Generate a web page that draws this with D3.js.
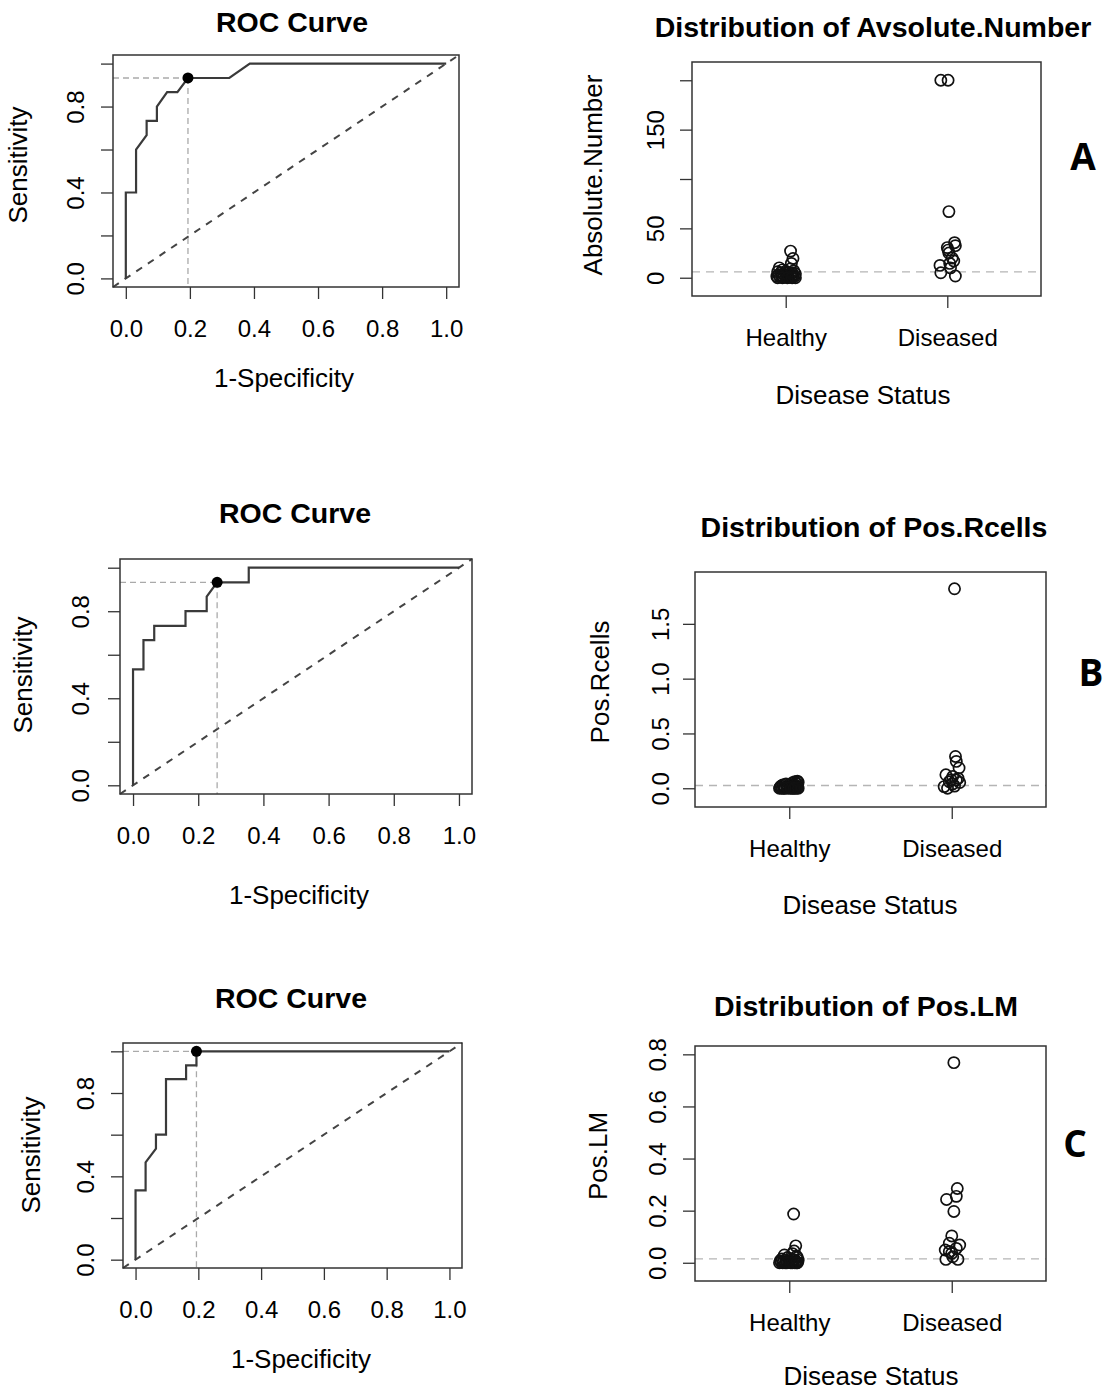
<!DOCTYPE html>
<html>
<head>
<meta charset="utf-8">
<script src="https://cdn.jsdelivr.net/npm/d3@7"></script>
<style>
body { margin: 0; background: #fff; }
text { font-family: "Liberation Sans", Arial, sans-serif; fill: #000; }
</style>
</head>
<body>
<div id="chart"></div>
<script>
// ROC curves: 1-specificity / sensitivity
var rocA_fpr = [0, 0, 0.032, 0.032, 0.065, 0.065, 0.097, 0.097, 0.129, 0.161, 0.194, 0.323, 0.387, 1];
var rocA_tpr = [0, 0.4, 0.4, 0.6, 0.667, 0.733, 0.733, 0.8, 0.867, 0.867, 0.933, 0.933, 1, 1];
var rocA_best = [0.194, 0.933];

var rocB_fpr = [0, 0, 0.032, 0.032, 0.065, 0.065, 0.161, 0.161, 0.226, 0.226, 0.258, 0.355, 0.355, 1];
var rocB_tpr = [0, 0.533, 0.533, 0.667, 0.667, 0.733, 0.733, 0.8, 0.8, 0.867, 0.933, 0.933, 1, 1];
var rocB_best = [0.258, 0.933];

var rocC_fpr = [0, 0, 0.032, 0.032, 0.065, 0.065, 0.097, 0.097, 0.161, 0.161, 0.194, 0.194, 1];
var rocC_tpr = [0, 0.333, 0.333, 0.467, 0.533, 0.6, 0.6, 0.867, 0.867, 0.933, 0.933, 1, 1];
var rocC_best = [0.194, 1];

var rocTicks = [0, 0.2, 0.4, 0.6, 0.8, 1.0];
var rocYLabels = ["0.0", "", "0.4", "", "0.8", ""];

// strip charts
var groups = ["Healthy", "Diseased"];

var absHealthy = [27, 19.5, 14.5, 10, 9, 8, 7, 6.5, 6, 5, 5, 4.5, 4, 3.5, 3, 3, 2.5, 2, 2, 1.5, 1.5, 1, 1, 1, 0.5, 0.5, 0, 0, 0, 0, 0];
var absHealthyJit = [0.03, 0.045, 0.035, -0.04, 0.03, -0.02, 0.05, 0.0, -0.05, 0.04, -0.03, 0.01, 0.06, -0.01, -0.045, 0.03, 0.045, -0.025, 0.015, -0.055, 0.055, -0.035, 0.005, 0.035, -0.015, 0.02, -0.05, -0.02, 0.01, 0.04, 0.06];
var absDiseased = [200, 200, 67, 35.5, 32.5, 30.5, 28, 25, 20, 17, 14.5, 12.5, 10, 5, 1.7];
var absDiseasedJit = [-0.04, 0.005, 0.01, 0.045, 0.05, 0.0, 0.005, 0.01, 0.03, 0.04, 0.015, -0.045, 0.02, -0.04, 0.05];
var absCutoff = 6;
var absTicks = [0, 50, 100, 150, 200];
var absLabels = ["0", "50", "", "150", ""];

var posRHealthy = [0.065, 0.06, 0.055, 0.05, 0.045, 0.04, 0.04, 0.035, 0.03, 0.03, 0.025, 0.02, 0.02, 0.015, 0.015, 0.01, 0.01, 0.01, 0.005, 0.005, 0.005, 0, 0, 0, 0, 0, 0, 0, 0, 0, 0];
var posRHealthyJit = [0.05, 0.035, 0.055, 0.02, 0.04, -0.02, 0.05, 0.0, -0.04, 0.03, 0.015, -0.05, 0.045, -0.01, 0.025, -0.055, 0.005, 0.035, -0.03, 0.05, -0.015, -0.045, 0.02, -0.06, 0.04, -0.025, 0.01, 0.055, -0.005, -0.035, 0.03];
var posRDiseased = [1.82, 0.29, 0.245, 0.185, 0.123, 0.107, 0.09, 0.077, 0.075, 0.06, 0.052, 0.04, 0.02, 0.015, 0.0];
var posRDiseasedJit = [0.017, 0.023, 0.028, 0.045, -0.036, 0.006, 0.039, -0.004, 0.028, -0.015, 0.049, 0.006, 0.017, -0.047, -0.026];
var posRCutoff = 0.025;
var posRTicks = [0, 0.5, 1.0, 1.5];
var posRLabels = ["0.0", "0.5", "1.0", "1.5"];

var posLMHealthy = [0.187, 0.065, 0.045, 0.035, 0.03, 0.025, 0.02, 0.02, 0.015, 0.015, 0.012, 0.01, 0.01, 0.008, 0.006, 0.005, 0.005, 0.004, 0.003, 0.002, 0.002, 0.001, 0, 0, 0, 0, 0, 0, 0, 0, 0];
var posLMHealthyJit = [0.027, 0.04, 0.03, 0.02, -0.03, 0.045, -0.01, 0.05, -0.045, 0.01, 0.03, -0.02, 0.055, -0.055, 0.0, 0.04, -0.035, 0.015, -0.05, 0.05, -0.005, 0.025, -0.06, 0.035, -0.025, 0.01, -0.04, 0.05, -0.015, 0.02, 0.045];
var posLMDiseased = [0.768, 0.285, 0.255, 0.243, 0.197, 0.103, 0.075, 0.068, 0.055, 0.049, 0.043, 0.036, 0.023, 0.013, 0.013];
var posLMDiseasedJit = [0.013, 0.034, 0.028, -0.032, 0.013, 0.0, -0.015, 0.049, 0.028, -0.04, -0.015, 0.0, 0.006, -0.036, 0.038];
var posLMCutoff = 0.015;
var posLMTicks = [0, 0.2, 0.4, 0.6, 0.8];
var posLMLabels = ["0.0", "0.2", "0.4", "0.6", "0.8"];

var W = 1109, H = 1390;
var svg = d3.select("#chart").append("svg")
    .attr("width", W)
    .attr("height", H);
svg.append("rect").attr("width", W).attr("height", H).attr("fill", "#fff");

function styleAxis(g) {
    g.select(".domain").remove();
    g.selectAll(".tick line").attr("stroke", "#333").attr("stroke-width", 1.3);
    g.selectAll(".tick text")
        .attr("font-size", "24px")
        .attr("font-family", "Liberation Sans, Arial, sans-serif")
        .attr("fill", "#000");
}

// y axis labels in R are drawn parallel to the axis
function rotateYLabels(g, off) {
    g.selectAll(".tick text")
        .attr("x", null)
        .attr("dy", null)
        .attr("text-anchor", "middle")
        .attr("transform", "translate(" + (-off + 8.6) + ",0) rotate(-90)");
}

function addTexts(p) {
    svg.append("text")
        .attr("x", p.title[0]).attr("y", p.title[1] + 10)
        .attr("text-anchor", "middle")
        .attr("font-size", "28.5px")
        .attr("font-weight", "bold")
        .text(p.titleText);
    svg.append("text")
        .attr("x", p.xlab[0]).attr("y", p.xlab[1] + p.xlabShift)
        .attr("text-anchor", "middle")
        .attr("font-size", "26px")
        .text(p.xlabText);
    svg.append("text")
        .attr("transform", "translate(" + (p.ylab[0] + p.ylabShift) + "," + p.ylab[1] + ") rotate(-90)")
        .attr("text-anchor", "middle")
        .attr("font-size", "26px")
        .text(p.ylabText);
}

function drawRoc(p) {
    var x = d3.scaleLinear().domain([-0.04, 1.04]).range([p.x0, p.x1]);
    var y = d3.scaleLinear().domain([-0.04, 1.04]).range([p.y1, p.y0]);
    var g = svg.append("g");

    // chance line
    g.append("line")
        .attr("x1", x(-0.04)).attr("y1", y(-0.04))
        .attr("x2", x(1.04)).attr("y2", y(1.04))
        .attr("stroke", "#444").attr("stroke-width", 2)
        .attr("stroke-dasharray", "7,7");

    // best threshold guides
    g.append("line")
        .attr("x1", p.x0).attr("x2", x(p.best[0]))
        .attr("y1", y(p.best[1])).attr("y2", y(p.best[1]))
        .attr("stroke", "#aaa").attr("stroke-width", 1.3)
        .attr("stroke-dasharray", "6,4");
    g.append("line")
        .attr("x1", x(p.best[0])).attr("x2", x(p.best[0]))
        .attr("y1", y(p.best[1])).attr("y2", p.y1)
        .attr("stroke", "#aaa").attr("stroke-width", 1.3)
        .attr("stroke-dasharray", "6,4");

    var line = d3.line()
        .x(function(d) { return x(d[0]); })
        .y(function(d) { return y(d[1]); });
    g.append("path")
        .datum(d3.zip(p.fpr, p.tpr))
        .attr("d", line)
        .attr("fill", "none")
        .attr("stroke", "#3a3a3a")
        .attr("stroke-width", 2.2);

    g.append("circle")
        .attr("cx", x(p.best[0])).attr("cy", y(p.best[1]))
        .attr("r", 5.5)
        .attr("fill", "#000");

    g.append("rect")
        .attr("x", p.x0).attr("y", p.y0)
        .attr("width", p.x1 - p.x0).attr("height", p.y1 - p.y0)
        .attr("fill", "none").attr("stroke", "#333").attr("stroke-width", 1.5);

    var xa = g.append("g")
        .attr("transform", "translate(0," + p.y1 + ")")
        .call(d3.axisBottom(x).tickValues(rocTicks).tickFormat(d3.format(".1f"))
            .tickSize(12).tickPadding(21));
    styleAxis(xa);

    var ya = g.append("g")
        .attr("transform", "translate(" + p.x0 + ",0)")
        .call(d3.axisLeft(y).tickValues(rocTicks)
            .tickFormat(function(d, i) { return rocYLabels[i]; })
            .tickSize(12));
    styleAxis(ya);
    rotateYLabels(ya, p.ytickOff);

    addTexts(p);
}

function drawStrip(p) {
    var x = d3.scaleLinear().domain([0.42, 2.58]).range([p.x0, p.x1]);
    var y = d3.scaleLinear().domain(p.yDomain).range([p.y1, p.y0]);
    var g = svg.append("g");

    g.append("line")
        .attr("x1", p.x0).attr("x2", p.x1)
        .attr("y1", y(p.cutoff)).attr("y2", y(p.cutoff))
        .attr("stroke", "#b5b5b5").attr("stroke-width", 1.3)
        .attr("stroke-dasharray", "8,6");

    var pts = [];
    p.values.forEach(function(vals, gi) {
        vals.forEach(function(v, i) {
            pts.push({ g: gi + 1 + p.jitter[gi][i], v: v });
        });
    });

    g.selectAll("circle.pt")
        .data(pts)
        .enter()
        .append("circle")
        .attr("class", "pt")
        .attr("cx", function(d) { return x(d.g); })
        .attr("cy", function(d) { return y(d.v); })
        .attr("r", 5.6)
        .attr("fill", "none")
        .attr("stroke", "#111")
        .attr("stroke-width", 1.7);

    g.append("rect")
        .attr("x", p.x0).attr("y", p.y0)
        .attr("width", p.x1 - p.x0).attr("height", p.y1 - p.y0)
        .attr("fill", "none").attr("stroke", "#333").attr("stroke-width", 1.5);

    var xa = g.append("g")
        .attr("transform", "translate(0," + p.y1 + ")")
        .call(d3.axisBottom(x).tickValues([1, 2])
            .tickFormat(function(d) { return groups[d - 1]; })
            .tickSize(12).tickPadding(21));
    styleAxis(xa);

    var ya = g.append("g")
        .attr("transform", "translate(" + p.x0 + ",0)")
        .call(d3.axisLeft(y).tickValues(p.ticks)
            .tickFormat(function(d, i) { return p.labels[i]; })
            .tickSize(12));
    styleAxis(ya);
    rotateYLabels(ya, p.ytickOff);

    addTexts(p);

    svg.append("text")
        .attr("x", p.letter[0]).attr("y", p.letter[1])
        .attr("text-anchor", "middle")
        .style("font-family", "'Open Sans', Lato, sans-serif")
        .attr("font-size", "37px")
        .attr("font-weight", "bold")
        .text(p.letterText);
}

drawRoc({
    x0: 113, x1: 459, y0: 55, y1: 287,
    fpr: rocA_fpr, tpr: rocA_tpr, best: rocA_best, ytickOff: 38,
    titleText: "ROC Curve", title: [292, 22],
    xlabText: "1-Specificity", xlab: [284, 380], xlabShift: 7,
    ylabText: "Sensitivity", ylab: [20, 165], ylabShift: 7
});
drawRoc({
    x0: 120, x1: 472, y0: 559, y1: 794,
    fpr: rocB_fpr, tpr: rocB_tpr, best: rocB_best, ytickOff: 40,
    titleText: "ROC Curve", title: [295, 513],
    xlabText: "1-Specificity", xlab: [299, 897], xlabShift: 7,
    ylabText: "Sensitivity", ylab: [25, 675], ylabShift: 7
});
drawRoc({
    x0: 123, x1: 462, y0: 1043, y1: 1268,
    fpr: rocC_fpr, tpr: rocC_tpr, best: rocC_best, ytickOff: 38,
    titleText: "ROC Curve", title: [291, 998],
    xlabText: "1-Specificity", xlab: [301, 1361], xlabShift: 7,
    ylabText: "Sensitivity", ylab: [33, 1155], ylabShift: 7
});

drawStrip({
    x0: 692, x1: 1041, y0: 62, y1: 296, yDomain: [-18.5, 218.5],
    values: [absHealthy, absDiseased], jitter: [absHealthyJit, absDiseasedJit],
    cutoff: absCutoff, ticks: absTicks, labels: absLabels, ytickOff: 37,
    titleText: "Distribution of Avsolute.Number", title: [873, 27],
    xlabText: "Disease Status", xlab: [863, 395], xlabShift: 9,
    ylabText: "Absolute.Number", ylab: [593, 175], ylabShift: 9,
    letterText: "A", letter: [1083, 170]
});
drawStrip({
    x0: 695, x1: 1046, y0: 572, y1: 807, yDomain: [-0.171, 1.973],
    values: [posRHealthy, posRDiseased], jitter: [posRHealthyJit, posRDiseasedJit],
    cutoff: posRCutoff, ticks: posRTicks, labels: posRLabels, ytickOff: 35,
    titleText: "Distribution of Pos.Rcells", title: [874, 527],
    xlabText: "Disease Status", xlab: [870, 905], xlabShift: 9,
    ylabText: "Pos.Rcells", ylab: [600, 682], ylabShift: 9,
    letterText: "B", letter: [1091, 686]
});
drawStrip({
    x0: 695, x1: 1046, y0: 1046, y1: 1281, yDomain: [-0.070, 0.832],
    values: [posLMHealthy, posLMDiseased], jitter: [posLMHealthyJit, posLMDiseasedJit],
    cutoff: posLMCutoff, ticks: posLMTicks, labels: posLMLabels, ytickOff: 38,
    titleText: "Distribution of Pos.LM", title: [866, 1006],
    xlabText: "Disease Status", xlab: [871, 1376], xlabShift: 9,
    ylabText: "Pos.LM", ylab: [598, 1156], ylabShift: 9,
    letterText: "C", letter: [1075, 1157]
});
</script>
</body>
</html>
